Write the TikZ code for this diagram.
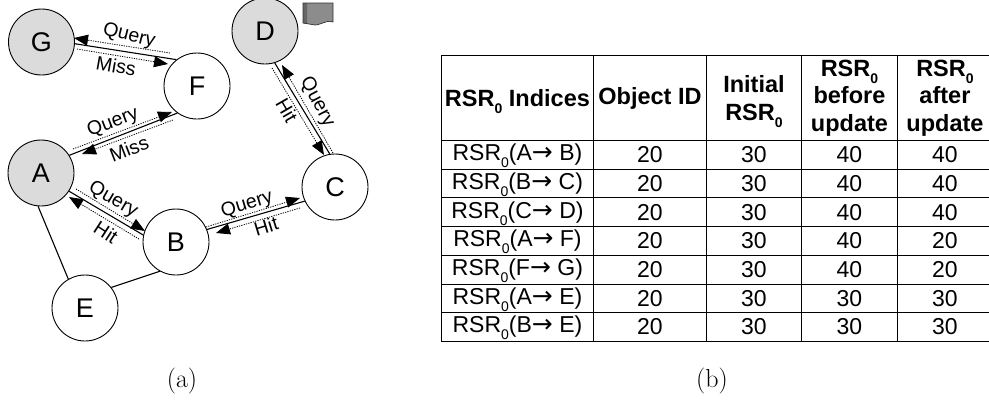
\documentclass[tikz,border=0pt]{standalone}
\usepackage{fontspec}
\setmainfont{Liberation Sans}
\newfontfamily\capfont{Latin Modern Roman}
\newfontfamily\arrowfont{DejaVu Sans}
\usetikzlibrary{arrows.meta}
\newcommand{\szero}{\smash{\raisebox{-.3em}{\fontsize{14}{14}\selectfont 0}}}
\newcommand{\rsr}[2]{RSR\szero(#1{\arrowfont\fontsize{25}{25}\selectfont →} #2)}
\tikzset{
  x=1pt,y=-1pt,
  peer/.style={circle,draw,line width=0.9pt,minimum size=66pt,inner sep=0pt,font=\fontsize{27}{27}\selectfont,fill=white},
  seed/.style={peer,fill=black!14},
  link/.style={line width=1.1pt},
  msg/.style={line width=0.8pt,dash pattern=on 1.2pt off 1.2pt,-{Triangle[length=14pt,width=11pt]}},
  lab/.style={font=\fontsize{19.5}{19.5}\selectfont,inner sep=0pt},
  cell/.style={draw,line width=0.9pt,inner sep=0pt,anchor=north west,align=center,font=\fontsize{23}{23}\selectfont},
  head/.style={cell,font=\fontsize{23.5}{27.5}\selectfont\bfseries},
  captext/.style={font=\capfont\fontsize{26}{26}\selectfont,inner sep=0pt}
}
\begin{document}
\begin{tikzpicture}
\useasboundingbox (0,0) rectangle (989,402);
\node[seed] (G) at (41.5,42) {G};
\node[peer] (F) at (197,86) {F};
\node[seed] (A) at (41,173) {A};
\node[peer] (B) at (176,242) {B};
\node[peer] (C) at (335,187) {C};
\node[seed] (D) at (265,31) {D};
\node[peer] (E) at (85,308) {E};
\draw[link] (G.-3) -- (F.128);
\draw[link] (A.32) -- (F.234);
\draw[link] (A.-33) -- (B.168);
\draw[link] (B.22) -- (C.205);
\draw[link] (D.-73) -- (C.99);
\draw[link] (A.265) -- (E.120);
\draw[link] (E.38) -- (B.241);
% messages
\coordinate (gfq0) at (170,53); \coordinate (gfq1) at (74,38);
\coordinate (gfm0) at (77,49); \coordinate (gfm1) at (168,64);
\coordinate (afq0) at (73,149); \coordinate (afq1) at (172,112);
\coordinate (afm0) at (173,120); \coordinate (afm1) at (82,154);
\coordinate (abq0) at (76,189); \coordinate (abq1) at (145,231);
\coordinate (abh0) at (139,239); \coordinate (abh1) at (69,197);
\coordinate (bcq0) at (206,227); \coordinate (bcq1) at (300,198);
\coordinate (bch0) at (300,208); \coordinate (bch1) at (216,233);
\coordinate (cdq0) at (333,153); \coordinate (cdq1) at (282,65);
\coordinate (cdh0) at (272,68); \coordinate (cdh1) at (324,155);
\foreach \m in {gfq,gfm,afq,afm,abq,abh,bcq,bch,cdq,cdh}
  \draw[msg] (\m0) -- (\m1);
\node[lab,rotate=-14] (l1) at (129,36) {Query};
\node[lab,rotate=-10] (l2) at (116,66) {Miss};
\node[lab,rotate=21] (l3) at (113,123) {Query};
\node[lab,rotate=21] (l4) at (129,149) {Miss};
\node[lab,rotate=-30] (l5) at (113,200) {Query};
\node[lab,rotate=-33] (l6) at (106,232) {Hit};
\node[lab,rotate=17] (l7) at (247,205) {Query};
\node[lab,rotate=17] (l8) at (266,226) {Hit};
\node[lab,rotate=-62] (l9) at (317,102) {Query};
\node[lab,rotate=-60] (l10) at (287,110) {Hit};
% document flag
\fill[black!45] (303,3) -- (333,3) -- (333,22) .. controls (325,19) and (320,27) .. (312,24.5) -- (303,23) -- cycle;
\fill[black!60] (303,3) -- (307,3) -- (307,24) -- (303,23) -- cycle;
\draw[line width=0.7pt,black!80] (303,3) -- (333,3) -- (333,22) .. controls (325,19) and (320,27) .. (312,24.5) -- (303,23) -- cycle;
% table
\node[head,minimum width=152pt,minimum height=85pt] (h1) at (441,55) {RSR\szero{} Indices};
\node[head,minimum width=113pt,minimum height=85pt] (h2) at (593,55) {Object ID};
\node[head,minimum width=95pt,minimum height=85pt] (h3) at (706,55) {Initial\\RSR\szero};
\node[head,minimum width=96pt,minimum height=85pt] (h4) at (801,55) {RSR\szero\\before\\update};
\node[head,minimum width=95pt,minimum height=85pt] (h5) at (897,55) {RSR\szero\\after\\update};
\foreach \i/\a/\b/\u/\v/\w in {0/A/B/30/40/40,1/B/C/30/40/40,2/C/D/30/40/40,3/A/F/30/40/20,4/F/G/30/40/20,5/A/E/30/30/30,6/B/E/30/30/30}{
  \pgfmathsetmacro{\yy}{140+\i*28.7}
  \node[cell,minimum width=152pt,minimum height=28.7pt] (r\i a) at (441,\yy) {\rsr{\a}{\b}};
  \node[cell,minimum width=113pt,minimum height=28.7pt] (r\i b) at (593,\yy) {20};
  \node[cell,minimum width=95pt,minimum height=28.7pt] (r\i c) at (706,\yy) {\u};
  \node[cell,minimum width=96pt,minimum height=28.7pt] (r\i d) at (801,\yy) {\v};
  \node[cell,minimum width=95pt,minimum height=28.7pt] (r\i e) at (897,\yy) {\w};
}
\node[captext] (ca) at (182,381) {(a)};
\node[captext] (cb) at (712,381) {(b)};
\end{tikzpicture}
\end{document}
